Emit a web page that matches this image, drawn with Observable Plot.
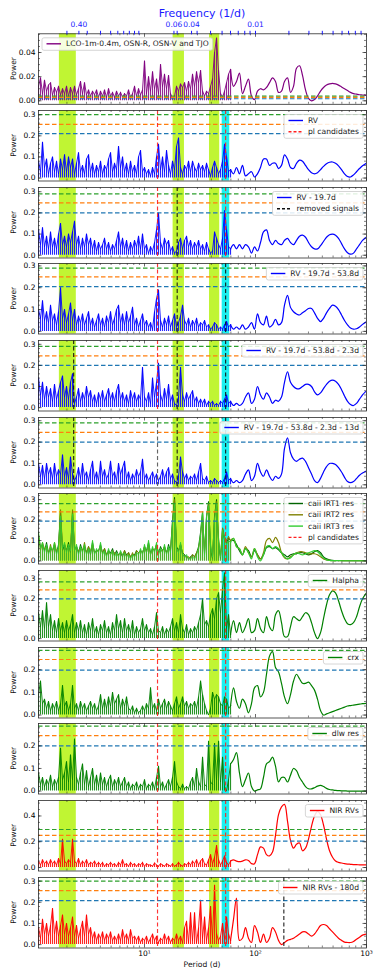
<!DOCTYPE html>
<html><head><meta charset="utf-8">
<script src="https://cdn.jsdelivr.net/npm/d3@7"></script>
<script src="https://cdn.jsdelivr.net/npm/@observablehq/plot@0.6"></script>
<style>
body{margin:0;background:#fff}
#root{position:relative;width:381px;height:979px;font-family:"DejaVu Sans",sans-serif;overflow:hidden}
</style></head><body><div id="root"></div>
<script>
// ---------- data ----------
const periods = [
1.109,1.156,1.205,1.256,1.310,1.365,1.423,1.483,1.546,1.612,
1.680,1.751,1.825,1.903,1.983,2.067,2.154,2.246,2.341,2.440,
2.543,2.651,2.763,2.880,3.002,3.130,3.262,3.401,3.545,3.695,
3.852,4.015,4.185,4.362,4.547,4.740,4.941,5.150,5.368,5.596,
5.833,6.080,6.338,6.606,6.886,7.178,7.482,7.799,8.129,8.474,
8.833,9.205,9.594,10.00,10.42,10.87,11.33,11.81,12.31,12.83,
13.37,13.94,14.53,15.14,15.79,16.46,17.15,17.88,18.64,19.43,
20.25,21.11,22.01,22.94,23.91,24.92,25.98,27.08,28.23,29.43,
30.68,31.98,33.33,34.74,36.21,37.75,39.35,41.01,42.75,44.56,
46.45,48.42,50.47,52.61,54.84,57.16,59.58,
63.4,67.4,71.7,76.3,81.2,86.4,92.0,97.9,104.2,110.9,
118.0,125.6,133.7,142.3,151.4,161.2,171.5,182.5,194.2,206.7,
220.0,234.1,249.2,265.2,282.2,300.3,319.6,340.1,362.0,385.3,
410.0,436.3,464.4,494.2,525.9,559.7,595.7,633.9,674.6,718.0,
764.1,813.2,865.4,921.0,1000];

const powerLCO = [
.012,.019,.006,.017,.008,.013,.015,.005,.011,.007,
.012,.005,.010,.006,.012,.004,.011,.006,.012,.005,
.010,.016,.006,.015,.005,.009,.004,.008,.005,.009,
.003,.008,.004,.009,.003,.010,.004,.007,.003,.008,
.004,.007,.003,.006,.004,.009,.003,.006,.012,.004,
.010,.005,.009,.033,.006,.020,.008,.024,.010,.018,
.006,.030,.012,.022,.010,.021,.006,.002,.004,.012,
.008,.014,.011,.015,.008,.016,.010,.022,.012,.024,
.015,.025,.008,.004,.008,.006,.012,.018,.040,.052,
.025,.006,.003,.008,.015,.022,.026,
.012,.016,.023,.006,.012,.018,.004,.001,.008,.010,
.009,.011,.015,.019,.016,.007,.008,.016,.019,.007,
.012,.027,.029,.021,.009,.002,.000,.001,.004,.008,
.011,.013,.014,.0145,.014,.013,.0115,.010,.0085,.007,
.006,.0055,.005,.0048,.0045];

const powerRV = [
.08,.03,.17,.05,.09,.02,.07,.10,.03,.08,
.02,.09,.04,.11,.03,.10,.05,.09,.02,.07,
.12,.03,.06,.02,.09,.11,.03,.07,.02,.06,
.03,.08,.02,.06,.04,.09,.12,.03,.07,.04,
.15,.05,.10,.03,.07,.02,.08,.03,.06,.02,
.10,.13,.03,.05,.02,.04,.01,.05,.02,.10,
.16,.04,.10,.03,.13,.06,.02,.08,.04,.15,
.19,.05,.02,.06,.04,.08,.03,.08,.05,.03,
.07,.04,.06,.03,.07,.04,.01,.05,.08,.05,
.02,.04,.08,.16,.10,.03,.04,
.02,.05,.02,.06,.01,.02,.03,.005,.02,.05,
.09,.09,.06,.07,.07,.045,.06,.11,.09,.05,
.045,.07,.085,.08,.06,.04,.025,.02,.025,.04,
.055,.068,.075,.076,.07,.058,.04,.02,.007,.005,
.015,.03,.045,.058,.07];

const powerRV_197 = [
.12,.05,.13,.04,.09,.03,.11,.04,.08,.03,
.10,.15,.05,.09,.04,.10,.06,.11,.16,.05,
.09,.03,.08,.04,.10,.05,.08,.03,.07,.02,
.06,.03,.05,.08,.03,.06,.02,.05,.03,.07,
.11,.04,.08,.03,.07,.02,.06,.03,.07,.04,
.09,.03,.10,.03,.05,.01,.04,.02,.06,.12,
.20,.06,.03,.08,.05,.07,.02,.04,.01,.02,
.06,.08,.03,.07,.09,.04,.07,.03,.06,.04,
.07,.03,.05,.02,.06,.03,.01,.02,.11,.08,
.05,.03,.08,.21,.12,.04,.03,
.05,.03,.05,.03,.05,.04,.01,.04,.02,.06,
.11,.12,.07,.05,.07,.055,.05,.07,.08,.06,
.05,.07,.09,.095,.085,.06,.04,.03,.03,.045,
.065,.085,.097,.10,.095,.08,.055,.03,.012,.005,
.01,.03,.05,.07,.085];

const powerRV_538 = [
.10,.06,.14,.05,.09,.04,.12,.05,.08,.03,
.09,.20,.06,.10,.04,.08,.13,.05,.10,.03,
.07,.04,.08,.03,.06,.09,.03,.06,.02,.05,
.08,.03,.06,.02,.07,.04,.09,.03,.06,.10,
.12,.04,.08,.03,.09,.04,.07,.11,.03,.06,
.02,.05,.08,.03,.05,.02,.04,.01,.09,.15,
.19,.05,.02,.06,.03,.07,.02,.05,.08,.02,
.04,.07,.12,.05,.03,.06,.02,.05,.03,.06,
.02,.04,.03,.05,.02,.03,.01,.02,.04,.03,
.01,.02,.01,.03,.045,.02,.03,
.01,.02,.01,.03,.01,.02,.04,.01,.08,.04,
.03,.07,.02,.03,.055,.03,.04,.12,.165,.11,
.09,.08,.075,.085,.095,.105,.105,.085,.06,.045,
.06,.085,.105,.12,.115,.10,.075,.05,.03,.015,
.01,.012,.02,.032,.045];

const powerRV_23 = [
.14,.06,.12,.04,.10,.05,.09,.03,.11,.04,
.08,.12,.15,.05,.10,.04,.12,.16,.02,.05,
.09,.03,.07,.04,.10,.05,.08,.03,.06,.02,
.07,.04,.08,.03,.06,.09,.04,.07,.03,.08,
.11,.04,.07,.03,.06,.02,.08,.04,.07,.03,
.06,.04,.19,.05,.03,.07,.02,.14,.05,.12,
.21,.06,.03,.09,.04,.11,.03,.06,.02,.01,
.05,.19,.06,.03,.07,.04,.06,.08,.03,.05,
.02,.04,.02,.04,.01,.03,.02,.03,.01,.02,
.01,.03,.02,.04,.06,.02,.03,
.01,.02,.01,.02,.05,.07,.02,.04,.10,.06,
.04,.07,.05,.02,.035,.03,.05,.12,.17,.12,
.10,.09,.09,.10,.11,.11,.10,.075,.06,.07,
.09,.11,.125,.13,.125,.11,.085,.055,.03,.015,
.01,.02,.04,.06,.08];

const powerRV_13 = [
.10,.04,.09,.03,.10,.05,.08,.03,.10,.04,
.07,.05,.14,.04,.08,.03,.13,.05,.02,.04,
.08,.03,.10,.04,.06,.02,.07,.11,.03,.06,
.02,.11,.04,.07,.03,.05,.11,.04,.06,.02,
.10,.05,.08,.11,.03,.06,.02,.05,.03,.07,
.04,.06,.12,.03,.05,.02,.04,.06,.03,.05,
.02,.04,.07,.03,.06,.08,.03,.05,.02,.01,
.04,.13,.06,.03,.05,.02,.04,.03,.05,.02,
.06,.10,.03,.02,.04,.01,.02,.01,.03,.02,
.01,.02,.01,.03,.06,.02,.03,
.01,.02,.01,.02,.05,.07,.02,.04,.10,.06,
.04,.07,.04,.02,.04,.03,.05,.17,.22,.15,
.12,.11,.12,.125,.11,.08,.05,.02,.01,.03,
.06,.085,.10,.10,.095,.08,.06,.035,.015,.01,
.015,.03,.045,.055,.065];

const powerIRT1 = [
.12,.07,.08,.05,.09,.04,.06,.05,.08,.04,
.08,.24,.05,.08,.05,.09,.04,.24,.06,.07,
.04,.08,.05,.07,.04,.07,.03,.09,.04,.05,
.05,.08,.04,.06,.03,.05,.04,.06,.03,.05,
.03,.04,.02,.05,.03,.04,.02,.03,.03,.05,
.04,.05,.04,.07,.05,.09,.04,.06,.05,.08,
.04,.07,.05,.07,.04,.08,.05,.20,.31,.07,
.05,.08,.04,.03,.02,.01,.02,.03,.02,.04,
.07,.14,.24,.03,.22,.29,.06,.01,.22,.30,
.09,.01,.16,.10,.09,.11,.10,
.10,.08,.05,.03,.06,.05,.02,.05,.03,.01,
.03,.065,.07,.06,.065,.055,.04,.03,.02,.03,
.035,.035,.04,.04,.035,.03,.035,.045,.05,.04,
.02,.01,.005,.003,.002,.002,.002,.001,.001,.001,
.001,.001,.001,.001,.001];

const powerIRT2 = [
.13,.05,.09,.06,.07,.04,.08,.04,.09,.05,
.06,.25,.07,.08,.05,.07,.06,.25,.05,.07,
.05,.06,.05,.09,.04,.07,.05,.08,.04,.05,
.05,.07,.04,.06,.03,.05,.03,.05,.04,.03,
.03,.04,.03,.05,.02,.04,.02,.04,.02,.05,
.04,.05,.04,.07,.04,.08,.03,.06,.05,.08,
.04,.05,.05,.07,.04,.06,.05,.19,.30,.05,
.05,.08,.03,.02,.02,.02,.01,.03,.02,.04,
.06,.12,.23,.04,.21,.28,.07,.02,.21,.29,
.11,.02,.16,.12,.10,.12,.10,
.11,.07,.06,.03,.07,.04,.02,.06,.03,.01,
.04,.10,.11,.09,.115,.09,.04,.015,.01,.02,
.03,.04,.045,.045,.04,.035,.035,.035,.03,.02,
.01,.005,.003,.002,.002,.002,.001,.001,.001,.001,
.001,.001,.001,.001,.001];

const powerIRT3 = [
.14,.06,.09,.04,.08,.03,.07,.05,.09,.03,
.07,.22,.06,.09,.04,.08,.05,.23,.05,.08,
.03,.07,.04,.08,.03,.06,.04,.10,.03,.06,
.04,.09,.03,.05,.02,.06,.03,.05,.02,.04,
.02,.05,.03,.04,.02,.03,.01,.03,.02,.04,
.03,.06,.03,.08,.04,.10,.03,.07,.04,.09,
.03,.06,.04,.08,.03,.07,.04,.18,.28,.06,
.04,.09,.03,.02,.03,.01,.01,.02,.01,.03,
.06,.13,.24,.02,.22,.27,.08,.02,.20,.28,
.10,.02,.15,.11,.08,.10,.09,
.11,.07,.06,.03,.06,.04,.01,.06,.02,.00,
.03,.07,.075,.06,.07,.06,.04,.02,.01,.015,
.03,.04,.035,.03,.035,.04,.045,.05,.045,.03,
.015,.005,.003,.002,.002,.002,.001,.001,.001,.001,
.001,.001,.001,.001,.001];

const powerHalpha = [
.13,.06,.14,.05,.18,.06,.12,.04,.09,.03,
.10,.04,.08,.03,.09,.04,.07,.12,.03,.08,
.04,.09,.03,.07,.02,.08,.04,.10,.03,.06,
.02,.07,.04,.09,.03,.06,.02,.08,.04,.12,
.05,.09,.03,.10,.04,.07,.03,.09,.02,.06,
.03,.05,.10,.04,.07,.03,.05,.02,.06,.13,
.04,.03,.06,.02,.05,.03,.06,.10,.04,.08,
.03,.12,.05,.03,.07,.02,.05,.03,.06,.04,
.08,.12,.20,.07,.09,.06,.12,.15,.10,.20,
.23,.13,.25,.33,.05,.12,.02,
.09,.03,.08,.03,.06,.10,.03,.04,.10,.05,
.03,.11,.06,.04,.12,.14,.08,.01,.01,.06,
.11,.10,.09,.11,.13,.12,.08,.03,.00,.03,
.10,.17,.22,.24,.23,.19,.14,.10,.075,.07,
.08,.11,.16,.20,.23];

const powerCrx = [
.09,.15,.05,.07,.03,.06,.02,.05,.03,.06,
.02,.05,.13,.04,.06,.02,.05,.13,.03,.05,
.02,.06,.03,.05,.02,.04,.06,.03,.05,.02,
.04,.09,.03,.07,.03,.08,.04,.10,.05,.07,
.09,.03,.07,.04,.08,.03,.02,.04,.01,.03,
.01,.02,.04,.02,.05,.03,.12,.03,.05,.02,
.07,.03,.05,.07,.03,.06,.04,.02,.05,.08,
.03,.05,.08,.04,.06,.03,.05,.04,.06,.03,
.08,.15,.09,.05,.02,.00,.03,.10,.07,.09,
.08,.05,.04,.08,.07,.03,.04,
.12,.06,.03,.07,.05,.01,.05,.12,.13,.08,
.10,.18,.26,.28,.21,.19,.14,.08,.05,.09,
.15,.18,.16,.14,.14,.145,.13,.11,.07,.02,
.00,.005,.01,.015,.02,.025,.03,.035,.04,.042,
.044,.046,.048,.05,.052];

const powerDlw = [
.08,.03,.06,.02,.05,.03,.07,.02,.05,.03,
.06,.19,.05,.08,.13,.04,.16,.05,.23,.06,
.03,.08,.12,.03,.09,.02,.06,.10,.03,.07,
.02,.08,.03,.06,.02,.05,.07,.02,.05,.03,
.06,.02,.04,.06,.02,.04,.01,.03,.02,.04,
.01,.03,.02,.05,.01,.03,.02,.04,.01,.06,
.11,.02,.04,.01,.03,.05,.02,.06,.13,.04,
.02,.01,.03,.01,.02,.01,.04,.06,.02,.10,
.04,.02,.15,.03,.02,.22,.04,.03,.21,.05,
.22,.04,.15,.02,.00,.05,.12,
.14,.17,.08,.02,.05,.08,.02,.00,.005,.01,
.06,.12,.13,.15,.11,.04,.06,.06,.04,.07,
.10,.09,.06,.04,.02,.01,.01,.015,.022,.025,
.02,.012,.007,.005,.003,.002,.001,.001,.00,.00,
.00,.00,.00,.00,.00];

const powerNIR = [
.05,.02,.06,.03,.05,.02,.06,.03,.05,.02,
.07,.03,.22,.05,.03,.06,.04,.22,.05,.03,
.07,.02,.05,.03,.06,.02,.04,.03,.05,.02,
.04,.02,.04,.01,.03,.02,.04,.02,.03,.01,
.04,.02,.06,.02,.03,.01,.04,.02,.03,.01,
.03,.02,.04,.01,.03,.02,.02,.01,.035,.02,
.01,.03,.02,.01,.03,.02,.01,.03,.01,.02,
.04,.02,.01,.03,.02,.04,.02,.05,.03,.06,
.02,.05,.07,.03,.02,.06,.10,.03,.08,.17,
.06,.02,.05,.09,.04,.02,.05,
.06,.05,.045,.05,.06,.055,.03,.03,.10,.16,
.15,.10,.09,.12,.25,.41,.47,.49,.36,.21,
.15,.18,.19,.13,.15,.22,.32,.40,.435,.41,
.33,.22,.13,.08,.05,.04,.035,.03,.027,.025,
.023,.022,.021,.02,.02];

const powerNIR_180 = [
.08,.03,.12,.05,.10,.04,.09,.17,.05,.11,
.04,.09,.14,.05,.10,.04,.08,.13,.04,.09,
.03,.07,.11,.04,.14,.05,.08,.03,.06,.02,
.05,.03,.06,.02,.05,.03,.06,.02,.04,.02,
.05,.02,.07,.03,.05,.02,.07,.03,.04,.02,
.04,.01,.03,.02,.04,.01,.03,.05,.02,.04,
.01,.03,.02,.05,.02,.04,.01,.03,.02,.05,
.02,.04,.01,.08,.11,.01,.15,.02,.15,.01,
.08,.21,.03,.13,.02,.08,.18,.03,.28,.05,
.02,.04,.10,.03,.13,.05,.02,
.12,.22,.02,.03,.08,.03,.01,.09,.06,.01,
.05,.01,.03,.08,.06,.02,.00,.01,.02,.025,
.03,.04,.05,.06,.06,.05,.04,.05,.07,.09,
.095,.09,.075,.06,.045,.03,.02,.012,.01,.01,
.015,.025,.035,.045,.05];

// shaded period ranges (d)
const greenBands = [[1.71, 2.43], [18.1, 22.9], [38.5, 47.6]];
const cyanBand = [50.1, 58.6];
// vertical markers (d)
const plCandidates = [13.1, 53.8];
const removedSignals = [19.7, 53.8, 2.3, 13.1, 180];
// FAP levels [green, orange, blue] per panel
const fapLevels = [
  [0.0038, 0.0028, 0.0017],
  [0.30, 0.254, 0.21], [0.29, 0.247, 0.20], [0.29, 0.25, 0.205],
  [0.29, 0.245, 0.20], [0.29, 0.245, 0.20],
  [0.28, 0.24, 0.195], [0.285, 0.245, 0.20], [0.285, 0.245, 0.198],
  [0.287, 0.245, 0.20], [0.295, 0.25, 0.205], [0.30, 0.255, 0.208]];
const yDomains = [
  [-0.0029, 0.0555], [-0.014, 0.32], [-0.013, 0.32], [-0.012, 0.311],
  [-0.016, 0.318], [-0.015, 0.315], [-0.015, 0.33], [-0.012, 0.342],
  [-0.013, 0.298], [-0.013, 0.299], [-0.027, 0.52], [-0.016, 0.317]];
const yTicksLCO = [0, 0.02, 0.04];
const yTicksStd = [0, 0.1, 0.2, 0.3];
const yTicksLow = [0, 0.1, 0.2];
const yTicksNIR = [0, 0.2, 0.4];
const xTicks = [10, 100, 1000];
const xTickLabels = ["10\u00B9", "10\u00B2", "10\u00B3"];
const freqTicks = [0.50, 0.39, 0.328, 0.249, 0.202, 0.174, 0.154, 0.137, 0.123, 0.1125,
  0.0543, 0.0508, 0.0377, 0.0336, 0.0254, 0.0200, 0.0168, 0.0143, 0.0125, 0.0112, 0.0100,
  0.0050, 0.0033, 0.0025, 0.0020, 0.00166, 0.00145, 0.00126, 0.00112];
const freqLabelValues = [0.39, 0.0543, 0.0377, 0.0100];
const freqLabelTexts = ["0.40", "0.06", "0.04", "0.01"];

// ---------- styles ----------
const PURPLE = "#800080", BLUE = "#0000ff", DKGREEN = "#006400", OLIVE = "#808000",
      LIME = "#32cd32", GREEN = "#008000", RED = "#ff0000";
const RED_DASH = "#ff2020", BLACK_DASH = "#111111";
const fmt1 = d => d.toFixed(1), fmt2 = d => d.toFixed(2);

const P = (v, k) => [v, k]; // vline: value, kind
const panels = [
  {series: [[powerLCO, PURPLE]], ticks: yTicksLCO, fmt: fmt2, minor: 0.005, v: [], cyan: false, left: true,
   legend: [["LCO-1m-0.4m, OSN-R, OSN-V and TJO", PURPLE, false]]},
  {series: [[powerRV, BLUE]], ticks: yTicksStd, fmt: fmt1, minor: 0.02, cyan: true,
   v: [P(plCandidates[0], "r"), P(plCandidates[1], "r")],
   legend: [["RV", BLUE, false], ["pl candidates", RED_DASH, true]]},
  {series: [[powerRV_197, BLUE]], ticks: yTicksStd, fmt: fmt1, minor: 0.02, cyan: true,
   v: [P(plCandidates[0], "r"), P(removedSignals[0], "k"), P(plCandidates[1], "r")],
   legend: [["RV - 19.7d", BLUE, false], ["removed signals", BLACK_DASH, true]]},
  {series: [[powerRV_538, BLUE]], ticks: yTicksStd, fmt: fmt1, minor: 0.02, cyan: true,
   v: [P(plCandidates[0], "r"), P(removedSignals[0], "k"), P(removedSignals[1], "k")],
   legend: [["RV - 19.7d - 53.8d", BLUE, false]]},
  {series: [[powerRV_23, BLUE]], ticks: yTicksStd, fmt: fmt1, minor: 0.02, cyan: true,
   v: [P(removedSignals[2], "k"), P(plCandidates[0], "r"), P(removedSignals[0], "k"), P(removedSignals[1], "k")],
   legend: [["RV - 19.7d - 53.8d - 2.3d", BLUE, false]]},
  {series: [[powerRV_13, BLUE]], ticks: yTicksStd, fmt: fmt1, minor: 0.02, cyan: true,
   v: [P(removedSignals[2], "k"), P(removedSignals[3], "g"), P(removedSignals[0], "k"), P(removedSignals[1], "k")],
   legend: [["RV - 19.7d - 53.8d - 2.3d - 13d", BLUE, false]]},
  {series: [[powerIRT1, DKGREEN], [powerIRT2, OLIVE], [powerIRT3, LIME]], ticks: yTicksStd, fmt: fmt1, minor: 0.02, cyan: true,
   v: [P(plCandidates[0], "r"), P(plCandidates[1], "r")],
   legend: [["caii IRT1 res", DKGREEN, false], ["caii IRT2 res", OLIVE, false], ["caii IRT3 res", LIME, false], ["pl candidates", RED_DASH, true]]},
  {series: [[powerHalpha, GREEN]], ticks: yTicksStd, fmt: fmt1, minor: 0.02, cyan: true,
   v: [P(plCandidates[0], "r"), P(plCandidates[1], "r")], legend: [["Halpha", GREEN, false]]},
  {series: [[powerCrx, GREEN]], ticks: yTicksLow, fmt: fmt1, minor: 0.02, cyan: true,
   v: [P(plCandidates[0], "r"), P(plCandidates[1], "r")], legend: [["crx", GREEN, false]]},
  {series: [[powerDlw, GREEN]], ticks: yTicksLow, fmt: fmt1, minor: 0.02, cyan: true,
   v: [P(plCandidates[0], "r"), P(plCandidates[1], "r")], legend: [["dlw res", GREEN, false]]},
  {series: [[powerNIR, RED]], ticks: yTicksNIR, fmt: fmt1, minor: 0.05, cyan: true,
   v: [P(plCandidates[0], "r"), P(plCandidates[1], "r")], legend: [["NIR RVs", RED, false]]},
  {series: [[powerNIR_180, RED]], ticks: yTicksStd, fmt: fmt1, minor: 0.02, cyan: true,
   v: [P(plCandidates[0], "r"), P(plCandidates[1], "r"), P(removedSignals[4], "k")],
   legend: [["NIR RVs - 180d", RED, false]]}
];

// ---------- layout ----------
const root = document.getElementById("root");
const W = 381, ML = 38, MR = 15, FH = 70.5, TOP0 = 33.3, STEP = 76.67;
const plotW = W - ML - MR;
const DENSE = 97;
const xDomain = [1.109, 1000];
const FRAME = "#2b2b2b";
const xMinor = [];
for (const b of [1, 10, 100]) for (let k = 2; k <= 9; k++) xMinor.push(b * k);
const freqLab = new Map(freqLabelValues.map((f, k) => [1 / f, freqLabelTexts[k]]));
const vColor = {r: RED_DASH, k: BLACK_DASH, g: "#555555"};
const fapColors = ["#2ca02c", "#ff7f0e", "#1f77b4"];

panels.forEach((cfg, i) => {
  const first = i === 0, last = i === panels.length - 1;
  const mt = first ? TOP0 : 3, mb = last ? 32 : 3;
  const top = TOP0 + i * STEP;
  const dom = yDomains[i];
  const marks = [];
  marks.push(Plot.rect(greenBands, {x1: d => d[0], x2: d => d[1], fill: "#c0f533"}));
  if (cfg.cyan) marks.push(Plot.rect([cyanBand], {x1: d => d[0], x2: d => d[1], fill: "#1cf0f0"}));
  const multi = cfg.series.length > 1;
  for (const [vals, color] of cfg.series) {
    const pts = periods.map((p, k) => ({p, v: vals[k]}));
    const dense = pts.slice(0, DENSE);
    marks.push(Plot.ruleX(dense, {x: "p", y1: 0, y2: "v", stroke: color, strokeWidth: 1.1, strokeOpacity: multi ? 0.6 : 0.85, clip: true}));
    marks.push(Plot.line(dense, {x: "p", y: "v", stroke: color, strokeWidth: 0.9, clip: true}));
    marks.push(Plot.line(pts.slice(DENSE - 1), {x: "p", y: "v", stroke: color, strokeWidth: 1.2, curve: "catmull-rom", clip: true}));
  }
  fapLevels[i].forEach((f, k) => marks.push(Plot.ruleY([f], {stroke: fapColors[k], strokeWidth: 1.2, strokeDasharray: "4.5,2.5"})));
  cfg.v.forEach(([p, kind]) => marks.push(Plot.ruleX([p], {stroke: vColor[kind], strokeWidth: 1.15, strokeOpacity: 0.9, strokeDasharray: "4,2.5"})));
  marks.push(Plot.frame({stroke: FRAME, strokeWidth: 0.8}));
  // inward ticks (x: bottom & top)
  marks.push(Plot.tickX(xTicks, {insetTop: FH - 3.5, stroke: FRAME, strokeWidth: 0.7}));
  marks.push(Plot.tickX(xTicks, {insetBottom: FH - 3.5, stroke: FRAME, strokeWidth: 0.7}));
  marks.push(Plot.tickX(xMinor, {insetTop: FH - 2, stroke: FRAME, strokeWidth: 0.6}));
  marks.push(Plot.tickX(xMinor, {insetBottom: FH - 2, stroke: FRAME, strokeWidth: 0.6}));
  // inward ticks (y: left & right)
  const yMinor = d3.range(Math.ceil(dom[0] / cfg.minor), Math.floor(dom[1] / cfg.minor) + 1).map(k => +(k * cfg.minor).toFixed(4));
  marks.push(Plot.tickY(cfg.ticks, {insetRight: plotW - 3.5, stroke: FRAME, strokeWidth: 0.7}));
  marks.push(Plot.tickY(cfg.ticks, {insetLeft: plotW - 3.5, stroke: FRAME, strokeWidth: 0.7}));
  marks.push(Plot.tickY(yMinor, {insetRight: plotW - 2, stroke: FRAME, strokeWidth: 0.6}));
  marks.push(Plot.tickY(yMinor, {insetLeft: plotW - 2, stroke: FRAME, strokeWidth: 0.6}));
  marks.push(Plot.axisY({ticks: cfg.ticks, tickSize: 0, tickPadding: 3, tickFormat: cfg.fmt, fontSize: 7.5, label: null}));
  if (first) {
    marks.push(Plot.axisX({anchor: "top", ticks: freqTicks.map(f => 1 / f), tickSize: 3.5, tickPadding: 3,
      tickFormat: p => freqLab.get(p) || "", color: "#1a1aff", fontSize: 7.5, label: null}));
  }
  if (last) {
    marks.push(Plot.axisX({anchor: "bottom", ticks: xTicks, tickSize: 0, tickPadding: 2.5,
      tickFormat: d => xTickLabels[xTicks.indexOf(d)], fontSize: 7.5, label: null}));
  }
  const svg = Plot.plot({
    width: W, height: mt + FH + mb,
    marginLeft: ML, marginRight: MR, marginTop: mt, marginBottom: mb,
    x: {type: "log", domain: xDomain, axis: null},
    y: {domain: dom, axis: null},
    style: {fontFamily: "DejaVu Sans", background: "transparent", overflow: "visible"},
    marks
  });
  svg.style.position = "absolute";
  svg.style.left = "0px";
  svg.style.top = (top - mt) + "px";
  root.appendChild(svg);

  const g = d3.select(svg).append("g").attr("font-family", "DejaVu Sans").attr("font-size", 7.6)
    .attr("text-anchor", "start");
  g.append("text").attr("transform", `translate(13.5,${mt + FH / 2}) rotate(-90)`)
    .attr("text-anchor", "middle").attr("dy", "0.35em").attr("fill", "#111").text("Power");
  if (first) {
    g.append("text").attr("x", 202).attr("y", 17).attr("text-anchor", "middle")
      .attr("font-size", 11).attr("fill", "#1a1aff").text("Frequency (1/d)");
  }
  if (last) {
    g.append("text").attr("x", 202).attr("y", mt + FH + 19).attr("text-anchor", "middle")
      .attr("fill", "#111").text("Period (d)");
  }
  // legend
  const ent = cfg.legend;
  const box = g.append("rect");
  const texts = ent.map((e, k) => g.append("text").attr("y", mt + 10.5 + k * 11.3).attr("dy", "0.35em")
    .attr("text-anchor", "start").attr("fill", "#1a1a1a").text(e[0]));
  const tw = d3.max(texts, t => t.node().getComputedTextLength());
  const bw = tw + 28;
  const bx = cfg.left ? 42 : 363 - bw;
  box.attr("x", bx).attr("y", mt + 4.5).attr("width", bw).attr("height", 12.5 + (ent.length - 1) * 11.3)
    .attr("rx", 2).attr("fill", "white").attr("fill-opacity", 0.85).attr("stroke", "#cccccc").attr("stroke-width", 0.8);
  texts.forEach(t => t.attr("x", bx + 24));
  ent.forEach((e, k) => {
    const y = mt + 10.5 + k * 11.3;
    g.append("line").attr("x1", bx + 4.5).attr("x2", bx + 19).attr("y1", y).attr("y2", y)
      .attr("stroke", e[1]).attr("stroke-width", 1.4).attr("stroke-dasharray", e[2] ? "3,2" : null);
  });
});
</script></body></html>
